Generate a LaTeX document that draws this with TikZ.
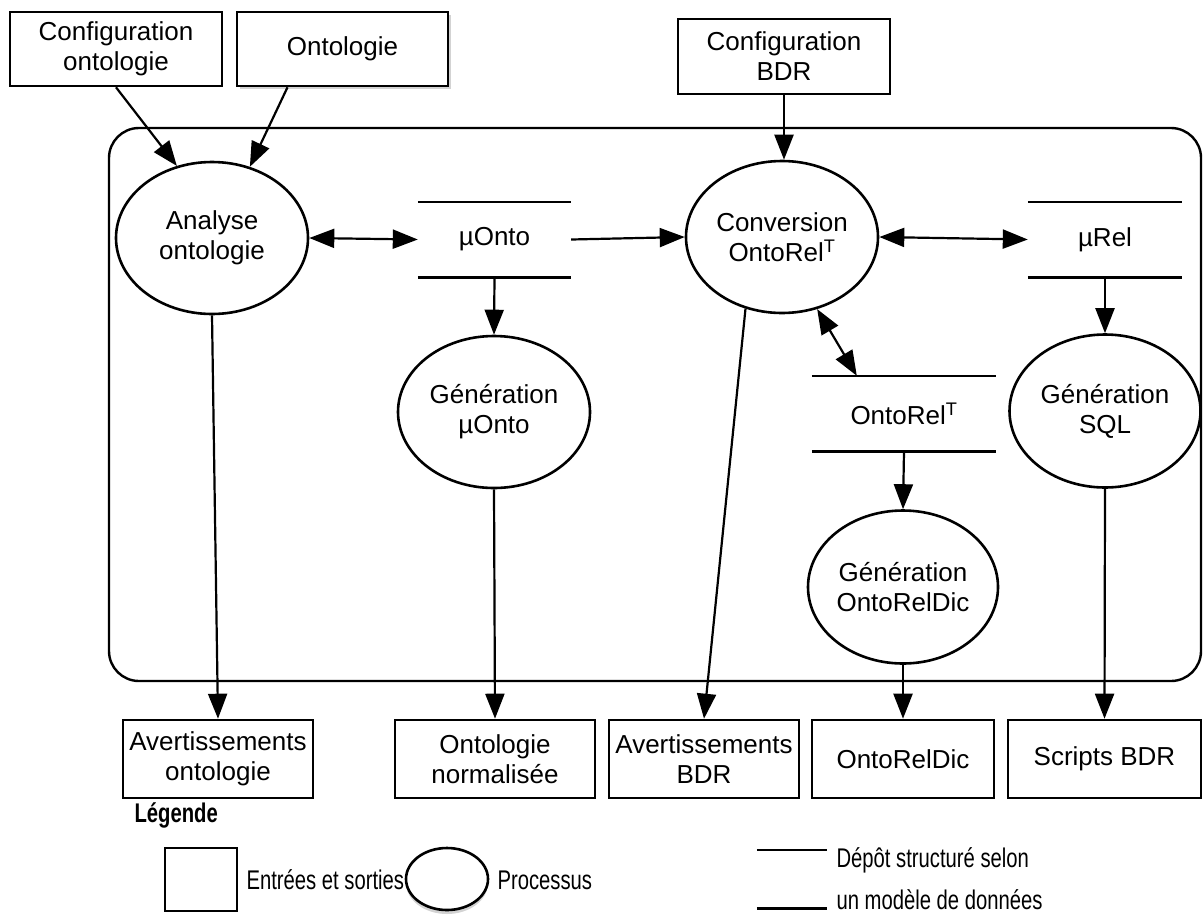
\documentclass[tikz,border=0pt]{standalone}
\usepackage{fontspec}
\setmainfont{Liberation Sans}
\newfontfamily\condfont[FakeStretch=0.75]{Liberation Sans}
\usetikzlibrary{arrows.meta,shadows,calc,shapes.geometric}
\begin{document}
\begin{tikzpicture}[x=1pt,y=-1pt,
  every node/.style={font=\fontsize{26}{30}\selectfont},
  lw/.style={line width=2.2pt},
  bw/.style={line width=2.6pt},
  io/.style={draw, bw, rectangle, inner sep=0pt, align=center},
  proc/.style={draw, bw, ellipse, inner sep=0pt, align=center},
  store/.style={inner sep=0pt, align=center},
  arr/.style={lw, -{Triangle[length=25pt,width=19pt]}},
  darr/.style={lw, {Triangle[length=25pt,width=19pt]}-{Triangle[length=25pt,width=19pt]}},
  shadowed/.style={drop shadow={shadow xshift=3pt, shadow yshift=-3pt, opacity=0.35}},
  leg/.style={font=\condfont\fontsize{27}{42}\selectfont}
]
\useasboundingbox (0,0) rectangle (1204,919);

% system frame
\node[draw, line width=2.4pt, rounded corners=30pt, minimum width=1092pt, minimum height=553pt, inner sep=0pt] (sys) at (655,404.5) {};

% inputs
\node[io, minimum width=212pt, minimum height=74pt] (cfgo) at (116,49) {Configuration\\ontologie};
\node[io, fill=white, shadowed, minimum width=211pt, minimum height=74pt] (ont) at (342.5,49) {Ontologie};
\node[io, minimum width=212pt, minimum height=75pt] (cbdr) at (784,56.5) {Configuration\\BDR};

% processes
\node[proc, minimum width=192pt, minimum height=152pt] (ana) at (212,238) {Analyse\\ontologie};
\node[proc, minimum width=192pt, minimum height=152pt] (conv) at (782,237) {Conversion\\OntoRel\textsuperscript{T}};
\node[proc, minimum width=192pt, minimum height=152pt] (genmu) at (494,412) {Génération\\µOnto};
\node[proc, minimum width=191pt, minimum height=153pt] (gensql) at (1105,411) {Génération\\SQL};
\node[proc, minimum width=190pt, minimum height=153pt] (genord) at (903,587) {Génération\\OntoRelDic};

% stores
\node[store, minimum width=153pt, minimum height=75pt] (muonto) at (494.5,239.5) {µOnto};
\node[store, minimum width=154pt, minimum height=75pt] (murel) at (1105,239.5) {µRel};
\node[store, minimum width=184pt, minimum height=75pt] (ortT) at (904,413.5) {OntoRel\textsuperscript{T}};
\foreach \s in {muonto,murel,ortT}{
  \draw[bw] (\s.north west) -- (\s.north east) (\s.south west) -- (\s.south east);
}

% outputs
\node[io, minimum width=190pt, minimum height=78pt] (avo) at (218,759) {Avertissements\\ontologie};
\node[io, minimum width=200pt, minimum height=78pt] (onn) at (495,759) {Ontologie\\normalisée};
\node[io, minimum width=190pt, minimum height=78pt] (avb) at (704,759) {Avertissements\\BDR};
\node[io, minimum width=182pt, minimum height=78pt] (ord) at (903,759) {OntoRelDic};
\node[io, minimum width=193pt, minimum height=78pt] (scr) at (1104.5,759) {Scripts BDR};

% connectors
\draw[arr] (cfgo.south) -- (ana.116);
\draw[arr] ($(ont.south)+(-55,0)$) -- (ana.62);
\draw[arr] (cbdr.south) -- (cbdr.south |- conv.north);
\draw[darr] (ana.east) -- (muonto.west);
\draw[arr] (muonto.east) -- (conv.west);
\draw[darr] (conv.east) -- (murel.west);
\draw[arr] (muonto.south) -- (genmu.north);
\draw[arr] (murel.south) -- (gensql.north);
\draw[darr] (conv.-64) -- ($(ortT.north west)+(45,0)$);
\draw[arr] (ortT.south) -- (genord.north);
\draw[arr] (ana.south) -- (avo.north);
\draw[arr] (genmu.south) -- (onn.north);
\draw[arr] (conv.-117) -- (avb.north);
\draw[arr] (genord.south) -- (ord.north);
\draw[arr] (gensql.south) -- (scr.north);

% legend
\node[anchor=west, font=\condfont\bfseries\fontsize{27}{30}\selectfont] (legt) at (131,815) {Légende};
\node[io, minimum width=72pt, minimum height=63pt] (legio) at (201,879.5) {};
\node[leg, anchor=west] (legiot) at (243,880) {Entrées et sorties};
\node[proc, fill=white, drop shadow={shadow xshift=0pt, shadow yshift=-4pt, opacity=0.35}, minimum width=82pt, minimum height=62pt] (legproc) at (447,879) {};
\node[leg, anchor=west] (legproct) at (494,880) {Processus};
\node[store, minimum width=70pt, minimum height=58pt] (legstore) at (792,879) {};
\draw[bw] (legstore.north west) -- (legstore.north east) (legstore.south west) -- (legstore.south east);
\node[leg, anchor=west, align=left] (legstoret) at (833,879) {Dépôt structuré selon\\un modèle de données};
\end{tikzpicture}
\end{document}
